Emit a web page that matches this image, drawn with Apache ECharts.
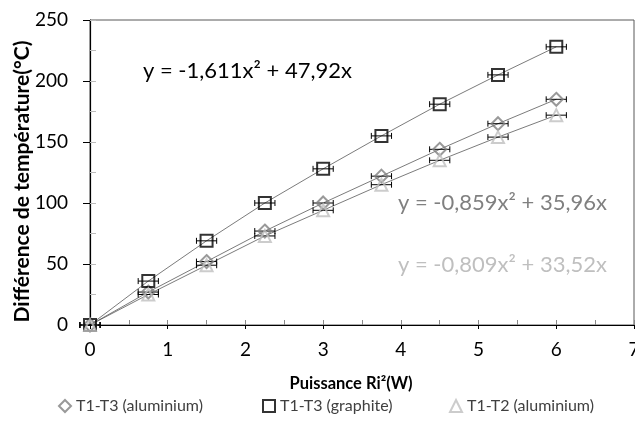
<!DOCTYPE html>
<html>
<head>
<meta charset="utf-8">
<script src="https://cdn.jsdelivr.net/npm/echarts@6/dist/echarts.min.js"></script>
<style>
  html, body { margin: 0; padding: 0; background: #fff; }
  #chart { width: 635px; height: 421px; }
</style>
</head>
<body>
<div id="chart"></div>
<script>
// puissance (W)
const powerX = [0, 0.75, 1.5, 2.25, 3, 3.75, 4.5, 5.25, 6];
// horizontal error on power
const powerErr = [0.13, 0.13, 0.13, 0.13, 0.13, 0.13, 0.13, 0.13, 0.13];

const aluT1T3 = [0, 27, 52, 77, 100, 122, 144, 165, 185];
const graphiteT1T3 = [0, 36, 69, 100, 128, 155, 181, 205, 228];
const aluT1T2 = [0, 25, 49, 73, 94, 115, 135, 154, 172];

const seriesNames = ["T1-T3 (aluminium)", "T1-T3 (graphite)", "T1-T2 (aluminium)"];
const fitLabels = ["y = -0,859x² + 35,96x", "y = -1,611x² + 47,92x", "y = -0,809x² + 33,52x"];

const FONT = "Lato";

const chart = echarts.init(document.getElementById("chart"));

const pairs = (ys) => powerX.map((x, i) => [x, ys[i]]);
const errData = (ys) => powerX.map((x, i) => [x, ys[i], powerErr[i]]);

// horizontal error bars drawn in data space
const errorBars = (ys) => ({
  type: "custom",
  silent: true,
  z: 4,
  data: errData(ys),
  renderItem: (params, api) => {
    const y = api.value(1);
    const lo = api.coord([api.value(0) - api.value(2), y]);
    const hi = api.coord([api.value(0) + api.value(2), y]);
    const style = { stroke: "#000", lineWidth: 1 };
    return {
      type: "group",
      children: [
        { type: "line", shape: { x1: lo[0], y1: lo[1], x2: hi[0], y2: hi[1] }, style },
        { type: "line", shape: { x1: lo[0], y1: lo[1] - 3, x2: lo[0], y2: lo[1] + 3 }, style },
        { type: "line", shape: { x1: hi[0], y1: hi[1] - 3, x2: hi[0], y2: hi[1] + 3 }, style },
      ],
    };
  },
});

const trend = (ys) => ({
  type: "line",
  data: pairs(ys),
  symbol: "none",
  silent: true,
  z: 3,
  lineStyle: { color: "#595959", width: 0.8 },
});

const marks = (name, ys, symbol, color) => ({
  name,
  type: "scatter",
  data: pairs(ys),
  symbol,
  symbolSize: symbol === "diamond" ? [13, 13] : 12,
  z: 5,
  itemStyle: { color: "rgba(255,255,255,0)", borderColor: color, borderWidth: 2 },
});

const legendBase = {
  bottom: 2,
  itemWidth: 12,
  itemHeight: 12,
  itemGap: 4,
  textStyle: { fontFamily: FONT, fontSize: 16, color: "#404040" },
};

const option = {
  animation: false,
  grid: {
    left: 90, top: 20, right: 1, bottom: 96,
    outerBoundsMode: "none",
    show: true, borderColor: "#595959", borderWidth: 1,
  },
  legend: [
    { ...legendBase, left: 53, data: [seriesNames[0]] },
    { ...legendBase, left: 257, data: [seriesNames[1]] },
    { ...legendBase, left: 444, data: [seriesNames[2]] },
  ],
  xAxis: [
    {
      type: "value", min: 0, max: 7, interval: 1,
      name: "Puissance Ri²(W)", nameLocation: "middle", nameGap: 50,
      nameMoveOverlap: false,
      nameTextStyle: { fontFamily: FONT, fontSize: 16.5, fontWeight: "bold", color: "#000", padding: [0, 22, 0, 0] },
      axisLine: { lineStyle: { color: "#000", width: 1.2 } },
      axisTick: { show: true, length: 4, lineStyle: { color: "#000" } },
      axisLabel: { fontFamily: FONT, fontSize: 19, color: "#000", margin: 15 },
      splitLine: { show: false },
    },
    {
      type: "value", min: 0, max: 7, interval: 0.5, position: "bottom",
      axisLine: { show: false },
      axisTick: { show: true, inside: true, length: 5, lineStyle: { color: "#888" } },
      axisLabel: { show: false },
      splitLine: { show: false },
    },
  ],
  yAxis: [
    {
      type: "value", min: 0, max: 250, interval: 50,
      name: "Différence de température(°C)", nameLocation: "middle", nameGap: 57,
      nameMoveOverlap: false,
      nameTextStyle: { fontFamily: FONT, fontSize: 21, fontWeight: "bold", color: "#000", padding: [0, 18, 0, 0] },
      axisLine: { show: true, lineStyle: { color: "#000", width: 1.2 } },
      axisTick: { show: true, length: 7, lineStyle: { color: "#000" } },
      axisLabel: { fontFamily: FONT, fontSize: 19, color: "#000", margin: 22 },
      splitLine: { show: false },
    },
    {
      type: "value", min: 0, max: 250, interval: 25, position: "left",
      axisLine: { show: false },
      axisTick: { show: true, inside: true, length: 6, lineStyle: { color: "#bbb" } },
      axisLabel: { show: false },
      splitLine: { show: false },
    },
  ],
  graphic: [
    { type: "text", left: 143, top: 60, style: { text: fitLabels[1], fontFamily: FONT, fontSize: 22, fill: "#000" } },
    { type: "text", left: 398, top: 192, style: { text: fitLabels[0], fontFamily: FONT, fontSize: 22, fill: "#808080" } },
    { type: "text", left: 398, top: 254, style: { text: fitLabels[2], fontFamily: FONT, fontSize: 22, fill: "#bfbfbf" } },
  ],
  series: [
    trend(aluT1T3),
    trend(graphiteT1T3),
    trend(aluT1T2),
    errorBars(aluT1T3),
    errorBars(graphiteT1T3),
    errorBars(aluT1T2),
    marks(seriesNames[0], aluT1T3, "diamond", "#808080"),
    marks(seriesNames[1], graphiteT1T3, "rect", "#000"),
    marks(seriesNames[2], aluT1T2, "triangle", "#bfbfbf"),
  ],
};

chart.setOption(option);
</script>
</body>
</html>
